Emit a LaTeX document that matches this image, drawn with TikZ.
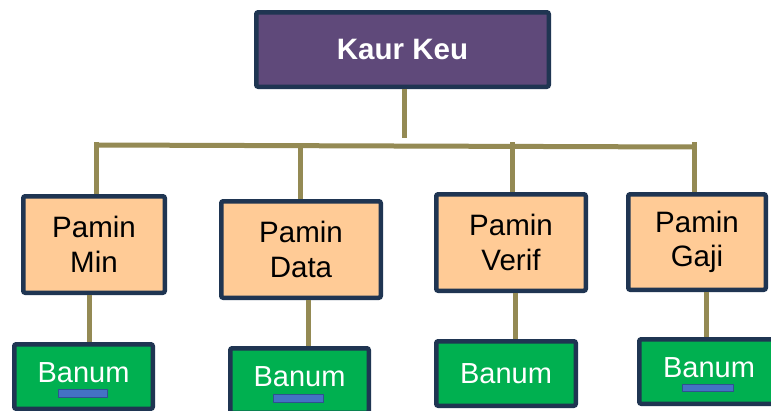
\documentclass[tikz,border=0pt]{standalone}
\usepackage{fontspec}
\setmainfont{Liberation Sans}
\definecolor{navy}{HTML}{1F3552}
\definecolor{purp}{HTML}{5F497A}
\definecolor{peach}{HTML}{FFCB96}
\definecolor{grn}{HTML}{00B050}
\definecolor{barblue}{HTML}{4472C4}
\definecolor{barrim}{HTML}{2F528F}
\definecolor{olive}{HTML}{948A54}
\tikzset{
  boxbase/.style={draw=navy, line width=4.5pt, rounded corners=2pt, inner sep=0pt, align=center, font=\fontsize{29.5}{34.5}\selectfont},
  topbox/.style={boxbase, fill=purp, text=white, font=\bfseries\fontsize{29.5}{34.5}\selectfont, minimum width=292.5pt, minimum height=74.5pt},
  paminbox/.style={boxbase, fill=peach, text=black, minimum height=96.5pt},
  banumbox/.style={boxbase, fill=grn, text=white, font=\fontsize{29}{34}\selectfont, minimum width=138.5pt, minimum height=64.5pt},
  barred/.style={text depth=7pt},
  bluebar/.style={draw=barrim, line width=0.6pt, fill=barblue, inner sep=0pt, minimum width=49pt},
  conn/.style={draw=olive, line width=5pt}
}
\begin{document}
\begin{tikzpicture}[x=1pt,y=-1pt]
\useasboundingbox[fill=white] (0,0) rectangle (771,410);
% boxes
\node[topbox] (kaur) at (402.5,49.5) {Kaur Keu};
\node[paminbox, minimum width=141.5pt] (min) at (94,244.5) {Pamin\\Min};
\node[paminbox, minimum width=159.5pt] (data) at (301,249.5) {Pamin\\Data};
\node[paminbox, minimum width=149.5pt] (verif) at (511,242.5) {Pamin\\Verif};
\node[paminbox, minimum width=137.5pt, minimum height=95.5pt] (gaji) at (697,242) {Pamin\\Gaji};
\node[banumbox, barred] (ban1) at (83.5,376.5) {Banum};
\node[banumbox, barred] (ban2) at (299.5,380.5) {Banum};
\node[banumbox, minimum width=139.5pt] (ban3) at (506,373.5) {Banum};
\node[banumbox, barred, minimum width=139.5pt] (ban4) at (709,371.5) {Banum};
% blue bars
\node[bluebar, minimum height=8pt] (bar1) at (82.5,393) {};
\node[bluebar, minimum width=50pt, minimum height=8pt] (bar2) at (298,398) {};
\node[bluebar, minimum width=51pt, minimum height=7pt] (bar4) at (707.5,387.5) {};
% bus
\coordinate (busL) at (96,145);
\coordinate (busR) at (694,147);
\coordinate (kaurEnd) at (404,138);
\coordinate (tickL) at (96,142);
\coordinate (tickR) at (694,142);
\coordinate (tickV) at (512,142);
\coordinate (busD) at (300,146);
\draw[conn] ([xshift=1.5pt]kaur.south) -- (kaurEnd);
\draw[conn] (busL) -- (busR);
\draw[conn] (tickL) -- (tickL |- min.north);
\draw[conn] (busD) -- (busD |- data.north);
\draw[conn] (tickV) -- (tickV |- verif.north);
\draw[conn] (tickR) -- (tickR |- gaji.north);
% lower connectors
\draw[conn] ([xshift=-5pt]min.south) -- ([xshift=-5pt]min.south |- ban1.north);
\draw[conn] ([xshift=7pt]data.south) -- ([xshift=7pt]data.south |- ban2.north);
\draw[conn] ([xshift=4pt]verif.south) -- ([xshift=4pt]verif.south |- ban3.north);
\draw[conn] ([xshift=9pt]gaji.south) -- ([xshift=9pt]gaji.south |- ban4.north);
\end{tikzpicture}
\end{document}
